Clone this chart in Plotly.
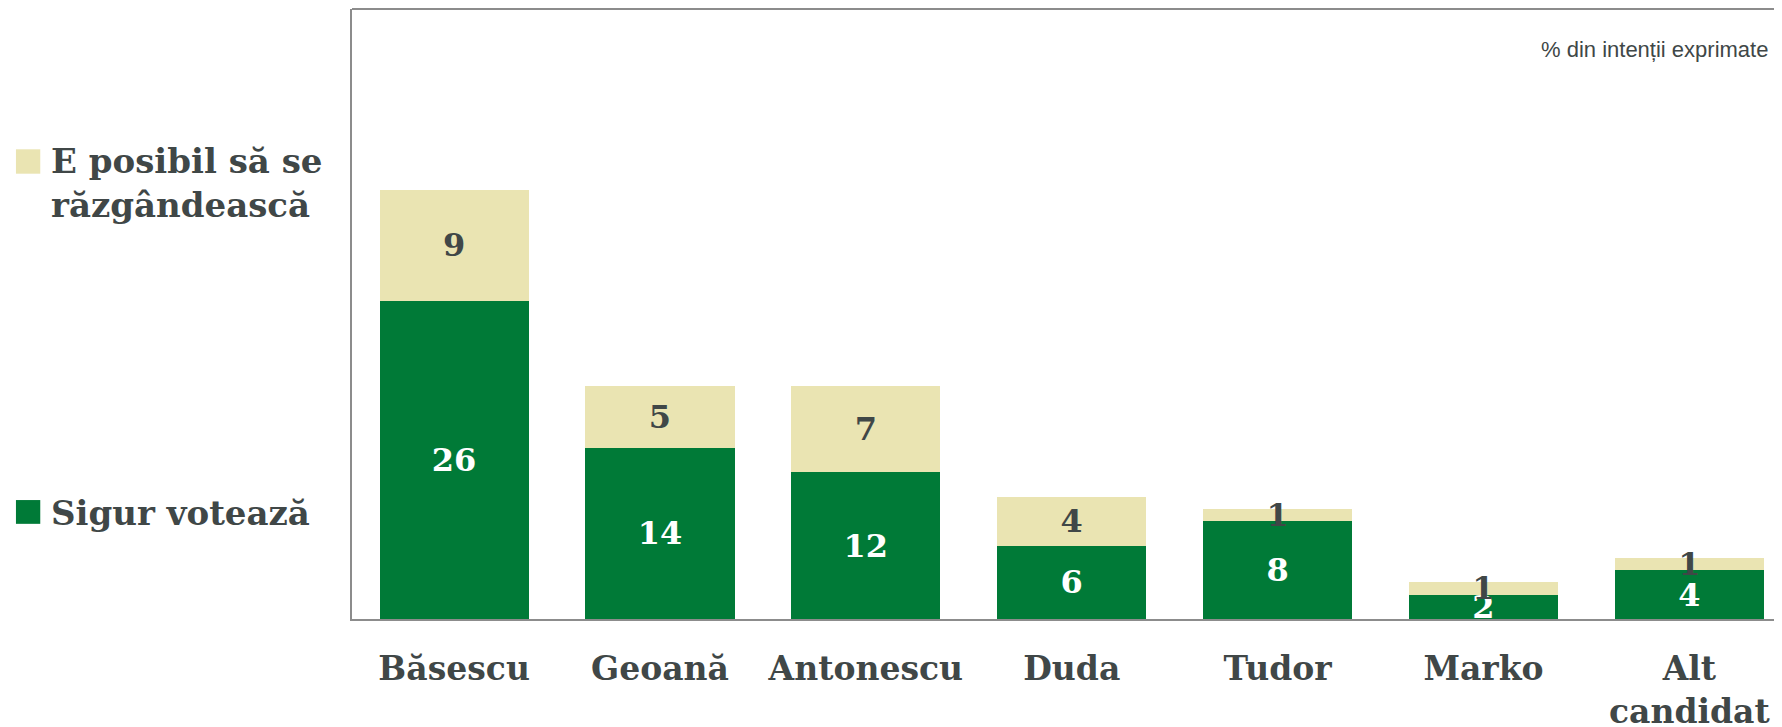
import plotly.graph_objects as go

# Candidates and vote intention (% of expressed intentions)
candidates = ['Băsescu', 'Geoană', 'Antonescu', 'Duda', 'Tudor', 'Marko', 'Alt<br>candidat']
sure_vote = [26, 14, 12, 6, 8, 2, 4]
may_change = [9, 5, 7, 4, 1, 1, 1]

series_names = ['Sigur votează', 'E posibil să se<br>răzgândească']
colors = ['#007A37', '#EAE4B2']
text_color = '#404747'
serif = 'DejaVu Serif'

fig = go.Figure()

fig.add_trace(go.Bar(x=candidates, y=sure_vote, name=series_names[0],
                     marker=dict(color=colors[0], line=dict(width=0)),
                     text=sure_vote, textposition='inside', insidetextanchor='middle', textangle=0,
                     textfont=dict(family=serif, size=32, color='white', weight='bold'),
                     showlegend=False))
fig.add_trace(go.Bar(x=candidates, y=may_change, name=series_names[1],
                     marker=dict(color=colors[1], line=dict(width=0)),
                     text=may_change, textposition='inside', insidetextanchor='middle', textangle=0,
                     textfont=dict(family=serif, size=32, color=text_color, weight='bold'),
                     showlegend=False))

# Legend drawn on the left, as in the original slide
fig.add_shape(type='rect', xref='paper', yref='paper', x0=-0.235, x1=-0.218, y0=0.730, y1=0.770,
              fillcolor=colors[1], line=dict(width=0))
fig.add_annotation(xref='paper', yref='paper', x=-0.212, y=0.715, xanchor='left', yanchor='middle',
                   text='<b>' + series_names[1] + '</b>', showarrow=False, align='left',
                   font=dict(size=34, color=text_color, family=serif))
fig.add_shape(type='rect', xref='paper', yref='paper', x0=-0.235, x1=-0.218, y0=0.156, y1=0.195,
              fillcolor=colors[0], line=dict(width=0))
fig.add_annotation(xref='paper', yref='paper', x=-0.212, y=0.174, xanchor='left', yanchor='middle',
                   text='<b>' + series_names[0] + '</b>', showarrow=False, align='left',
                   font=dict(size=34, color=text_color, family=serif))

fig.add_annotation(xref='paper', yref='paper', x=0.9916, y=0.933, xanchor='right', yanchor='middle',
                   text='% din intenții exprimate', showarrow=False,
                   font=dict(size=22, color='#404747', family='Liberation Sans'))

fig.update_layout(
    barmode='stack',
    bargap=0.276,
    width=1774, height=719,
    margin=dict(l=344, r=0, t=1, b=108, autoexpand=False),
    plot_bgcolor='white', paper_bgcolor='white',
    uniformtext=dict(minsize=32, mode='show'),
    xaxis=dict(range=[-0.496, 6.45], showgrid=False, ticks='', showline=True, automargin=False,
               linecolor='#8C8C8C', linewidth=2, mirror=False, ticklabelstandoff=19,
               tickfont=dict(family=serif, size=33, color=text_color, weight='bold')),
    yaxis=dict(range=[0, 49.8], showgrid=False, showticklabels=False, zeroline=False, automargin=False,
               showline=True, linecolor='#8C8C8C', linewidth=2),
)
# top border of the plot frame
fig.add_shape(type='line', xref='paper', yref='paper', x0=0, x1=1, y0=1, y1=1,
              line=dict(color='#8C8C8C', width=2))

fig.write_html("out.html")
